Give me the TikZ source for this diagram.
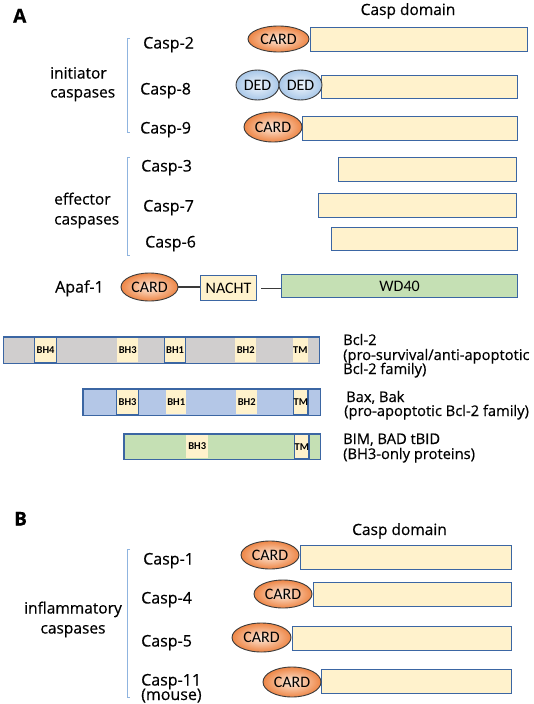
\documentclass[tikz,border=0pt]{standalone}
\usepackage{fontspec}
\setmainfont{Open Sans}[FakeBold=0.5]
\newfontfamily\carl{Carlito}
\usetikzlibrary{shapes.geometric}
\definecolor{yel}{HTML}{FFF2CC}
\definecolor{bdr}{HTML}{3B66A3}
\definecolor{brkc}{HTML}{8FB4DF}
\definecolor{grayf}{HTML}{D0CECE}
\definecolor{bluef}{HTML}{B4C7E7}
\definecolor{greenf}{HTML}{C5E0B4}
\definecolor{orin}{HTML}{FDEBDD}
\definecolor{orout}{HTML}{EE8646}
\definecolor{blin}{HTML}{F0F6FC}
\definecolor{blout}{HTML}{A8C7E8}
\definecolor{ovl}{HTML}{3A3A3A}
\begin{document}
\begin{tikzpicture}[x=1pt,y=-1pt,
  lbl/.style={anchor=base west, inner sep=0, font=\fontsize{16}{18}\selectfont},
  glbl/.style={anchor=base west, inner sep=0, font=\fontsize{15.5}{17}\selectfont},
  clbl/.style={anchor=base, inner sep=0, font=\fontsize{15.5}{17}\selectfont},
  rlbl/.style={anchor=base west, inner sep=0, font=\fontsize{14.7}{16}\selectfont},
  panel/.style={anchor=base west, inner sep=0, font=\fontsize{19}{20}\selectfont\bfseries},
  dom/.style={draw=bdr, line width=1.2pt, inner sep=0, anchor=north west, font=\carl\fontsize{16}{16}\selectfont},
  seg/.style={inner sep=0, anchor=north west, fill=yel, font=\carl\fontsize{10.5}{11}\selectfont\bfseries},
  segb/.style={seg, draw=bdr, line width=1.2pt},
  card/.style={ellipse, draw=ovl, line width=0.9pt, inner color=orin, outer color=orout,
    inner sep=0, minimum width=58pt, minimum height=28pt, font=\carl\fontsize{16}{16}\selectfont},
  ded/.style={ellipse, draw=ovl, line width=0.9pt, inner color=blin, outer color=blout,
    inner sep=0, minimum width=43pt, minimum height=30pt, font=\carl\fontsize{16}{16}\selectfont},
  brk/.style={draw=brkc, line width=1pt},
  link/.style={draw=ovl, line width=1.2pt}
]
\useasboundingbox (0,0) rectangle (533,704);

% ---------- panel A ----------
\node[panel] (pA) at (13,22.5) {A};
\node[clbl] (cdA) at (408,15) {Casp domain};

\draw[brk] (130,38) -- (127,38) -- (127,132) -- (130,132);
\node[glbl] (ini1) at (50,78.5) {initiator};
\node[glbl] (ini2) at (50,97.5) {caspases};

\node[lbl] (l2) at (143,48.5) {Casp-2};
\node[dom, fill=yel, minimum width=217pt, minimum height=24pt] (r2) at (310,27) {};
\node[card, minimum width=61pt, minimum height=26pt] (card2) at (278.5,39) {CARD};

\node[lbl] (l8) at (140,94.5) {Casp-8};
\node[dom, fill=yel, minimum width=196pt, minimum height=23pt] (r8) at (321,75) {};
\node[ded] (ded1) at (257.5,85) {DED};
\node[ded] (ded2) at (300.5,85) {DED};

\node[lbl] (l9) at (140,133.5) {Casp-9};
\node[dom, fill=yel, minimum width=215pt, minimum height=24pt] (r9) at (302,116) {};
\node[card, minimum height=30pt] (card9) at (273,127) {CARD};

\draw[brk] (130,157) -- (127,157) -- (127,255) -- (130,255);
\node[glbl] (eff1) at (54,204.5) {effector};
\node[glbl] (eff2) at (54,224.5) {caspases};

\node[lbl] (l3) at (141,171.5) {Casp-3};
\node[dom, fill=yel, minimum width=178pt, minimum height=24pt] (r3) at (338,157) {};
\node[lbl] (l7) at (143,211.5) {Casp-7};
\node[dom, fill=yel, minimum width=198pt, minimum height=24pt] (r7) at (318,193) {};
\node[lbl] (l6) at (145,247.5) {Casp-6};
\node[dom, fill=yel, minimum width=186pt, minimum height=23pt] (r6) at (331,227) {};

% Apaf-1
\node[lbl] (lap) at (55,292.5) {Apaf-1};
\node[dom, fill=yel, minimum width=56pt, minimum height=25pt] (nacht) at (200,275) {NACHT};
\node[dom, fill=greenf, minimum width=236pt, minimum height=23pt] (wd) at (281,274) {WD40};
\node[card, minimum width=57pt] (apcard) at (149.5,287) {CARD};
\draw[link] (apcard.east) -- (nacht.west |- apcard.east);
\draw[link, shorten <=4pt] (nacht.east) -- (nacht.east -| wd.west);

% Bcl-2
\node[dom, draw=none, fill=grayf, minimum width=315pt, minimum height=25pt] (bcl) at (3.5,337) {};
\node[segb, minimum width=22pt, minimum height=25pt] (b1) at (34,337) {BH4};
\node[seg, minimum width=21pt, minimum height=25pt] (b2) at (117,337) {BH3};
\node[segb, minimum width=21pt, minimum height=25pt] (b3) at (164,337) {BH1};
\node[seg, minimum width=21pt, minimum height=25pt] (b4) at (235,337) {BH2};
\node[seg, minimum width=14pt, minimum height=25pt] (b5) at (293,337) {TM};
\draw[draw=bdr, line width=1.2pt] (bcl.north west) rectangle (bcl.south east);
\node[rlbl] (tb1) at (343,345) {Bcl-2};
\node[rlbl] (tb2) at (343,360) {(pro-survival/anti-apoptotic};
\node[rlbl] (tb3) at (343,374) {Bcl-2 family)};

% Bax
\node[dom, draw=none, fill=bluef, minimum width=236pt, minimum height=25pt] (bax) at (83,389) {};
\node[segb, minimum width=22pt, minimum height=25pt] (x1) at (116,389) {BH3};
\node[seg, minimum width=20pt, minimum height=25pt] (x2) at (166,389) {BH1};
\node[seg, minimum width=21pt, minimum height=25pt] (x3) at (236,389) {BH2};
\node[segb, minimum width=14pt, minimum height=25pt] (x4) at (293,389) {TM};
\draw[draw=bdr, line width=1.2pt] (bax.north west) rectangle (bax.south east);
\node[rlbl] (tx1) at (346,402) {Bax, Bak};
\node[rlbl] (tx2) at (344,416) {(pro-apoptotic Bcl-2 family)};

% BIM
\node[dom, draw=none, fill=greenf, minimum width=195pt, minimum height=24pt] (bim) at (124,434) {};
\node[seg, minimum width=22pt, minimum height=24pt] (m1) at (186,434) {BH3};
\node[segb, minimum width=14pt, minimum height=24pt] (m2) at (294,434) {TM};
\draw[draw=bdr, line width=1.2pt] (bim.north west) rectangle (bim.south east);
\node[rlbl] (tm1) at (343,444) {BIM, BAD tBID};
\node[rlbl] (tm2) at (343,459) {(BH3-only proteins)};

% ---------- panel B ----------
\node[panel] (pB) at (14,525.5) {B};
\node[clbl] (cdB) at (399.5,535) {Casp domain};

\draw[brk] (130,549) -- (127,549) -- (127,697) -- (130,697);
\node[clbl] (inf1) at (73,613.5) {inflammatory};
\node[clbl] (inf2) at (73,633.5) {caspases};

\node[lbl] (l1) at (143,564.5) {Casp-1};
\node[dom, fill=yel, minimum width=211pt, minimum height=24pt] (r1) at (300,545) {};
\node[card] (card1) at (270,555) {CARD};

\node[lbl] (l4) at (141,603.5) {Casp-4};
\node[dom, fill=yel, minimum width=198pt, minimum height=24pt] (r4) at (313,582) {};
\node[card] (card4) at (283,594) {CARD};

\node[lbl] (l5) at (141,646.5) {Casp-5};
\node[dom, fill=yel, minimum width=219pt, minimum height=24pt] (r5) at (292,626) {};
\node[card, minimum width=59pt, minimum height=29pt] (card5) at (261.5,637.5) {CARD};

\node[lbl] (l11) at (141,685.5) {Casp-11};
\node[lbl] (l11b) at (141,700) {(mouse)};
\node[dom, fill=yel, minimum width=190pt, minimum height=24pt] (r11) at (321,669) {};
\node[card, minimum height=30pt] (card11) at (292,682) {CARD};
\end{tikzpicture}
\end{document}
